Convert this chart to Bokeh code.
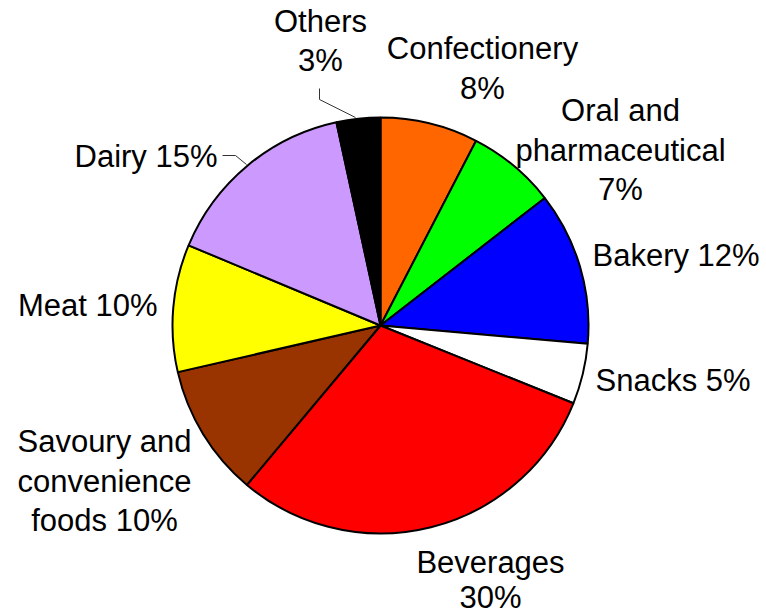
import math
from bokeh.plotting import figure
from bokeh.models import Range1d, ColumnDataSource
from bokeh.embed import file_html
from bokeh.resources import INLINE
from bokeh.core.properties import value

# ---- data ----
categories = ["Confectionery", "Oral and pharmaceutical", "Bakery", "Snacks",
              "Beverages", "Savoury and convenience foods", "Meat", "Dairy", "Others"]
shares = [7.6, 6.9, 11.9, 4.7, 30.0, 10.3, 9.9, 15.3, 3.4]
colors = ["#FF6600", "#00FF00", "#0000FF", "#FFFFFF", "#FF0000",
          "#993300", "#FFFF00", "#CC99FF", "#000000"]
label_lines = [["Confectionery", "8%"], ["Oral and", "pharmaceutical", "7%"],
               ["Bakery 12%"], ["Snacks 5%"], ["Beverages", "30%"],
               ["Savoury and", "convenience", "foods 10%"], ["Meat 10%"],
               ["Dairy 15%"], ["Others", "3%"]]

# ---- layout (pixel coords of the picture) ----
W, H = 766, 616
CX, CY, R = 380, 325, 208
# first-line center x, y, line spacing and alignment for each label
label_pos = [(482, 48, 40, "center"), (620, 110, 39.5, "center"), (592, 255, 0, "left"),
             (595, 380, 0, "left"), (490, 562, 35, "center"), (104, 441, 39.5, "center"),
             (157, 305, 0, "right"), (217, 156, 0, "right"), (320, 21, 39, "center")]
leaders = {8: [(319, 88), (319, 99), (355, 117)],
           7: [(222, 155), (235, 155), (246, 164)]}

def fy(y):
    return H - y

p = figure(width=W, height=H, output_backend="svg", toolbar_location=None,
           x_range=Range1d(0, W), y_range=Range1d(0, H),
           min_border=0)
p.axis.visible = False
p.grid.visible = False
p.outline_line_color = None
p.background_fill_color = "white"
p.border_fill_color = "white"

total = float(sum(shares))
starts, ends = [], []
cum = 0.0
for s in shares:
    starts.append(math.pi / 2 - 2 * math.pi * cum / total)
    cum += s
    ends.append(math.pi / 2 - 2 * math.pi * cum / total)

src = ColumnDataSource(dict(x=[CX] * len(shares), y=[fy(CY)] * len(shares),
                            start=starts, end=ends, color=colors, cat=categories))
p.wedge(x="x", y="y", radius=R, start_angle="start", end_angle="end",
        direction="clock", fill_color="color", line_color="black",
        line_width=2, source=src)

for i, pts in leaders.items():
    p.line([a for a, b in pts], [fy(b) for a, b in pts], line_color="#333333", line_width=1)

for i, lines in enumerate(label_lines):
    x0, y0, lh, al = label_pos[i]
    xs = [x0] * len(lines)
    ys = [fy(y0 + k * lh) for k in range(len(lines))]
    p.text(x=xs, y=ys, text=lines, text_font=value("Liberation Sans"),
           text_font_size="31px", text_color="black", text_align=al,
           text_baseline="middle")

open("out.html", "w").write(file_html(p, INLINE))
